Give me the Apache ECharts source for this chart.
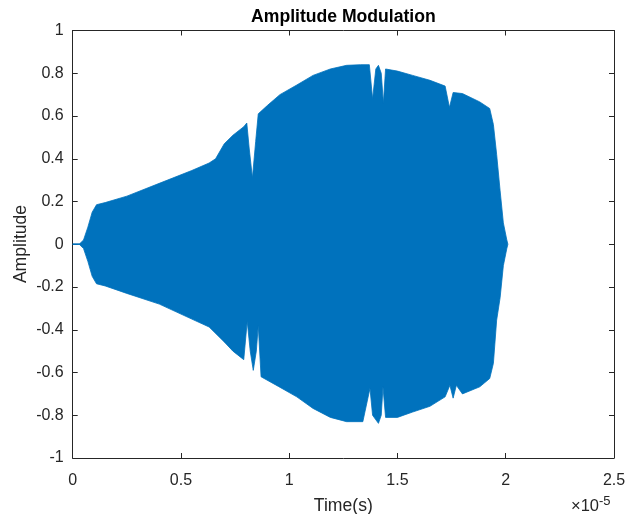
<!DOCTYPE html>
<html>
<head>
<meta charset="utf-8">
<script src="https://cdn.jsdelivr.net/npm/echarts@6/dist/echarts.min.js"></script>
<style>html,body{margin:0;padding:0;background:#fff}#c{width:627px;height:514px}</style>
</head>
<body>
<div id="c"></div>
<script>
// Envelope of the modulated signal (time in units of 1e-5 s)
var timeUpper = [0,0.03,0.05,0.07,0.09,0.11,0.15,0.25,0.40,0.55,0.63,0.66,0.70,0.74,0.79,0.804,0.815,0.830,0.845,0.857,0.90,0.957,1.035,1.11,1.19,1.265,1.33,1.37,1.385,1.40,1.412,1.425,1.435,1.445,1.50,1.57,1.65,1.72,1.74,1.757,1.80,1.88,1.926,1.943,1.958,1.974,1.989,2.005,2.01];
var upperEnv  = [0,0,0.02,0.08,0.15,0.185,0.195,0.225,0.285,0.345,0.38,0.40,0.47,0.51,0.55,0.567,0.45,0.31,0.48,0.61,0.65,0.70,0.745,0.79,0.82,0.837,0.84,0.84,0.68,0.82,0.837,0.80,0.66,0.82,0.81,0.79,0.767,0.74,0.64,0.71,0.705,0.666,0.635,0.56,0.42,0.25,0.10,0.02,0];
var timeLower = [0,0.03,0.05,0.07,0.09,0.11,0.15,0.25,0.40,0.55,0.63,0.70,0.74,0.79,0.806,0.82,0.834,0.848,0.857,0.87,0.95,1.035,1.11,1.19,1.265,1.34,1.373,1.385,1.412,1.425,1.433,1.445,1.50,1.57,1.65,1.72,1.742,1.757,1.772,1.80,1.88,1.926,1.943,1.958,1.974,1.989,2.005,2.01];
var lowerEnv  = [0,0,-0.02,-0.08,-0.15,-0.185,-0.195,-0.23,-0.28,-0.35,-0.387,-0.457,-0.50,-0.54,-0.36,-0.50,-0.59,-0.50,-0.38,-0.62,-0.665,-0.714,-0.768,-0.81,-0.83,-0.83,-0.674,-0.80,-0.838,-0.80,-0.667,-0.81,-0.81,-0.785,-0.758,-0.714,-0.66,-0.72,-0.66,-0.70,-0.667,-0.628,-0.557,-0.355,-0.25,-0.10,-0.02,0];
var xTicksE5 = [0,0.5,1,1.5,2,2.5];
var yTicks = [-1,-0.8,-0.6,-0.4,-0.2,0,0.2,0.4,0.6,0.8,1];

var SCALE = 1e-5;
function pairs(t, v){ return t.map(function(x,i){ return [x*SCALE, v[i]]; }); }

var axisCol = '#262626';
var fontFam = '"Liberation Sans", Arial, Helvetica, sans-serif';
var blue = '#0072BD';

var chart = echarts.init(document.getElementById('c'), null, {renderer:'canvas'});
var xCommon = {
  type:'value', min:xTicksE5[0]*SCALE, max:xTicksE5[xTicksE5.length-1]*SCALE, interval:0.5*SCALE,
  axisLine:{show:true, onZero:false, lineStyle:{color:axisCol, width:1}},
  axisTick:{show:true, inside:true, length:5, lineStyle:{color:axisCol}},
  splitLine:{show:false}
};
var yCommon = {
  type:'value', min:yTicks[0], max:yTicks[yTicks.length-1], interval:0.2,
  axisLine:{show:true, onZero:false, lineStyle:{color:axisCol, width:1}},
  axisTick:{show:true, inside:true, length:5, lineStyle:{color:axisCol}},
  splitLine:{show:false}
};
chart.setOption({
  animation:false,
  backgroundColor:'#fff',
  grid:{left:72.7, right:13, top:30.5, bottom:56, containLabel:false, outerBoundsMode:'none'},
  xAxis:[
    Object.assign({}, xCommon, {position:'bottom', name:'Time(s)', nameLocation:'middle', nameGap:39,
      nameTextStyle:{fontFamily:fontFam, fontSize:17.6, color:axisCol},
      axisLabel:{show:true, margin:15, color:axisCol, fontFamily:fontFam, fontSize:16,
        formatter:function(v){ return String(parseFloat((v/SCALE).toFixed(2))); }}}),
    Object.assign({}, xCommon, {position:'top', axisLabel:{show:false}})
  ],
  yAxis:[
    Object.assign({}, yCommon, {position:'left',
      axisLabel:{show:true, margin:9, color:axisCol, fontFamily:fontFam, fontSize:16,
        formatter:function(v){ return String(parseFloat(v.toFixed(1))); }}}),
    Object.assign({}, yCommon, {position:'right', axisLabel:{show:false}})
  ],
  series:[
    {type:'line', data:pairs(timeUpper, upperEnv), showSymbol:false, symbol:'none',
      lineStyle:{color:blue, width:0.8}, areaStyle:{color:blue, opacity:1, origin:-0.004}, z:3},
    {type:'line', data:pairs(timeLower, lowerEnv), showSymbol:false, symbol:'none',
      lineStyle:{color:blue, width:0.8}, areaStyle:{color:blue, opacity:1, origin:0.004}, z:3}
  ],
  graphic:[
    {type:'text', x:343.4, y:17, style:{
      text:'Amplitude Modulation', fill:'#000', font:'bold 17.6px ' + fontFam,
      align:'center', verticalAlign:'middle'}},
    {type:'text', x:21, y:244, rotation:Math.PI/2, style:{
      text:'Amplitude', fill:axisCol, font:'17.6px ' + fontFam,
      align:'center', verticalAlign:'middle'}},
    {type:'text', left:571, top:495, style:{
      text:'×10{sup|-5}', fill:axisCol, font:'16.5px ' + fontFam,
      rich:{sup:{fontSize:13, fontFamily:fontFam, fill:axisCol, verticalAlign:'top', padding:[0,0,10,0]}}
    }}
  ]
});
</script>
</body>
</html>
